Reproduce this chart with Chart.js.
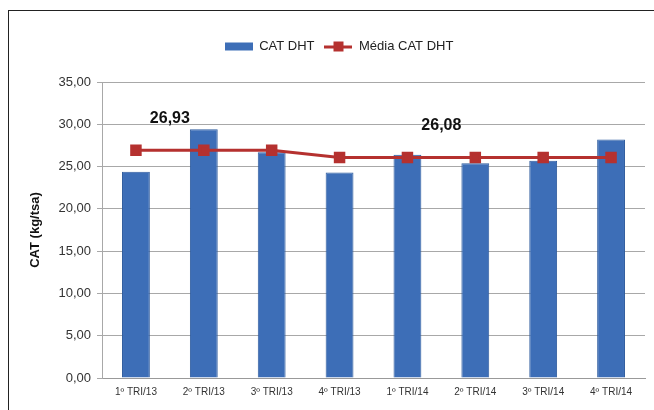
<!DOCTYPE html>
<html>
<head>
<meta charset="utf-8">
<script src="https://cdn.jsdelivr.net/npm/chart.js@4"></script>
<style>
  body { margin: 0; background: #fff; }
  #wrap { position: relative; width: 654px; height: 410px; overflow: hidden; }
  #frame { position: absolute; left: 8px; top: 10px; width: 700px; height: 450px; border: 1px solid #222; }
  canvas { position: absolute; left: 0; top: 0; }
</style>
</head>
<body>
<div id="wrap">
  <div id="frame"></div>
  <canvas id="chart" width="654" height="410"></canvas>
</div>
<script>
//! Data

const quarters = ["1º TRI/13", "2º TRI/13", "3º TRI/13", "4º TRI/13", "1º TRI/14", "2º TRI/14", "3º TRI/14", "4º TRI/14"];
const catDht = [24.4, 29.4, 26.7, 24.3, 26.4, 25.4, 25.7, 28.2];
const mediaCatDht = [26.93, 26.93, 26.93, 26.08, 26.08, 26.08, 26.08, 26.08];
const avgLabels = ["26,93", "26,08"];

const font = "'Liberation Sans Narrow', 'Liberation Sans', sans-serif";
const fmt = (v) => v.toFixed(2).replace(".", ",");
const blue = "#3D6EB7";
const red = "#B5312F";

//! Legend icons

function legendIcon(kind) {
  const c = document.createElement("canvas");
  c.width = 28;
  c.height = 12;
  const g = c.getContext("2d");
  if (kind === "bar") {
    g.fillStyle = blue;
    g.fillRect(0, 2, 28, 8);
  } else {
    g.fillStyle = red;
    g.fillRect(0, 5, 28, 3);
    g.fillRect(9, 1, 10, 10);
  }
  return c;
}

//! Plugins

const avgLabelPlugin = {
  id: "avgLabels",
  beforeInit(chart) {
    const fit = chart.legend.fit;
    chart.legend.fit = function () {
      fit.call(this);
      this.height += 19;
    };
  },
  afterDatasetsDraw(chart) {
    const pts = chart.getDatasetMeta(0).data;
    const ctx = chart.ctx;
    ctx.save();
    ctx.font = "bold 16px " + font;
    ctx.fillStyle = "#111";
    ctx.textAlign = "center";
    ctx.textBaseline = "middle";
    [[0, 1], [4, 5]].forEach(([a, b], i) => {
      const x = (pts[a].x + pts[b].x) / 2;
      const y = pts[a].y - 32;
      ctx.fillText(avgLabels[i], x, y);
    });
    ctx.restore();
  },
};

//! Chart JS

new Chart(document.getElementById("chart"), {
  data: {
    labels: quarters,
    datasets: [
      {
        type: "line",
        label: "Média CAT DHT",
        data: mediaCatDht,
        borderColor: red,
        backgroundColor: red,
        borderWidth: 3,
        pointStyle: "rect",
        pointRadius: 6,
        pointHoverRadius: 6,
        tension: 0,
        order: 0,
      },
      {
        type: "bar",
        label: "CAT DHT",
        data: catDht,
        backgroundColor: blue,
        borderColor: "#2F5C9E",
        borderWidth: 1,
        barPercentage: 0.82,
        categoryPercentage: 0.5,
        order: 1,
      },
    ],
  },
  options: {
    responsive: false,
    animation: false,
    layout: { padding: { left: 28, right: 4, top: 30, bottom: 4 } },
    plugins: {
      tooltip: { enabled: false },
      legend: {
        display: true,
        onClick: null,
        labels: {
          color: "#222",
          font: { family: font, size: 13 },
          usePointStyle: true,
          pointStyleWidth: 28,
          padding: 10,
          generateLabels(chart) {
            const items = Chart.defaults.plugins.legend.labels.generateLabels(chart);
            items.forEach((it) => {
              it.pointStyle = legendIcon(it.datasetIndex === 1 ? "bar" : "line");
            });
            return items.reverse();
          },
        },
      },
    },
    scales: {
      x: {
        grid: { display: false, drawTicks: false },
        border: { color: "#999", width: 1 },
        ticks: { color: "#333", font: { family: font, size: 10 }, padding: 8, maxRotation: 0 },
      },
      y: {
        min: 0,
        max: 35,
        afterFit(scale) { scale.width = 74; },
        grid: { color: "#a8a8a8", lineWidth: 1, tickLength: 5, tickColor: "#a8a8a8" },
        border: { color: "#a8a8a8", width: 1 },
        ticks: { stepSize: 5, color: "#333", font: { family: font, size: 13 }, padding: 6, callback: (v) => fmt(v) },
        title: { display: true, text: "CAT (kg/tsa)", color: "#111", font: { family: font, size: 13, weight: "bold" }, padding: { top: 0, bottom: 0 } },
      },
    },
  },
  plugins: [avgLabelPlugin],
});
</script>
</body>
</html>
